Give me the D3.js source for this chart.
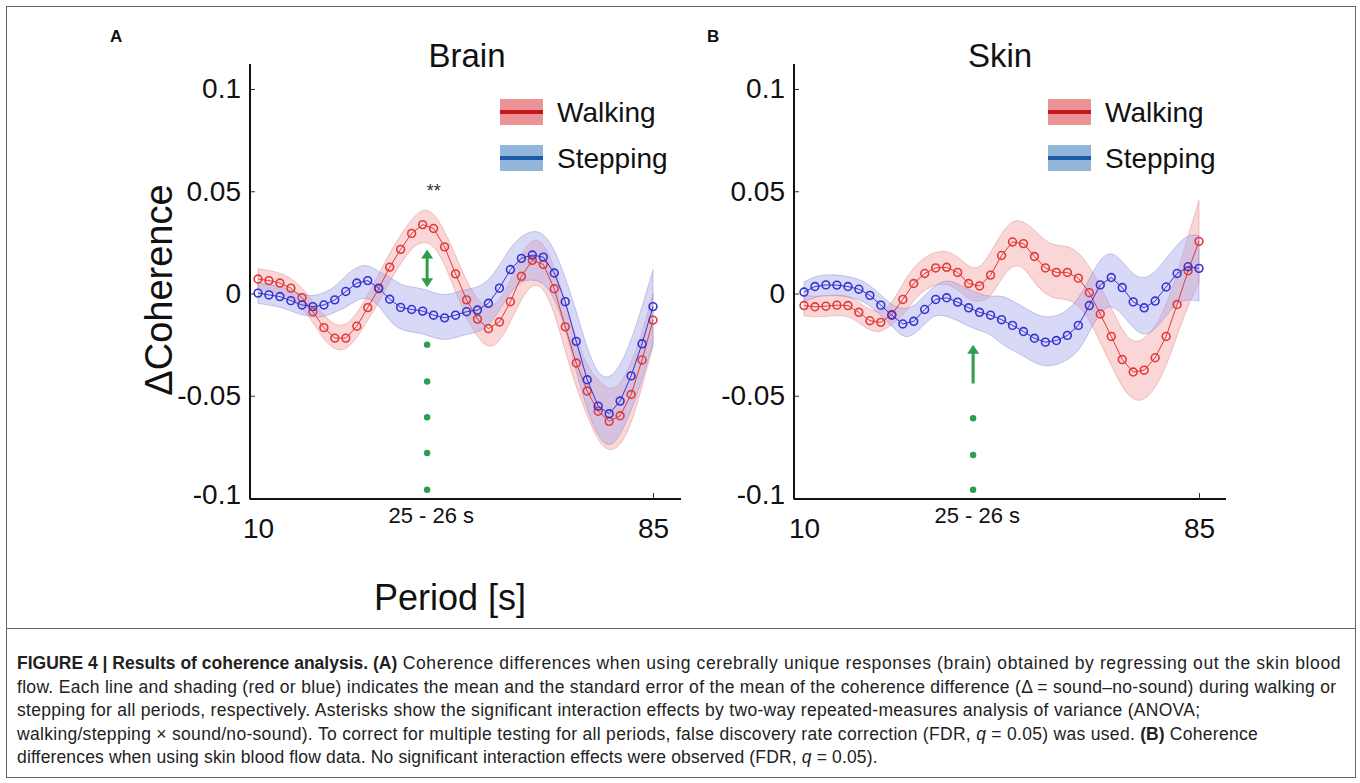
<!DOCTYPE html>
<html>
<head>
<meta charset="utf-8">
<script src="https://cdn.jsdelivr.net/npm/d3@7"></script>
<style>
  body { margin: 0; background: #fff; }
  svg { display: block; font-family: "Liberation Sans", Arial, sans-serif; }
</style>
</head>
<body>
<svg id="fig" width="1360" height="783"></svg>
<script>
// periods (s), log spaced 10 .. 85
const periods = [10.00, 10.61, 11.26, 11.95, 12.69, 13.46, 14.29, 15.16, 16.09, 17.08,
  18.12, 19.23, 20.41, 21.66, 22.99, 24.40, 25.89, 27.48, 29.16, 30.95,
  32.84, 34.85, 36.99, 39.25, 41.66, 44.21, 46.92, 49.79, 52.84, 56.08,
  59.51, 63.16, 67.03, 71.13, 75.49, 80.11, 85.00];

// Brain (A)
const brainWalking = [0.0071, 0.0063, 0.0051, 0.0026, -0.0020, -0.0089, -0.0167, -0.0218, -0.0218, -0.0160,
  -0.0069, 0.0023, 0.0129, 0.0216, 0.0294, 0.0337, 0.0318, 0.0228, 0.0096, -0.0031,
  -0.0125, -0.0172, -0.0139, -0.0040, 0.0084, 0.0162, 0.0142, 0.0023, -0.0163, -0.0340,
  -0.0477, -0.0576, -0.0625, -0.0598, -0.0494, -0.0325, -0.0130];
const brainWalkingSE = [0.005, 0.005, 0.005, 0.005, 0.005, 0.005, 0.006, 0.006, 0.006, 0.006,
  0.006, 0.007, 0.007, 0.007, 0.007, 0.008, 0.008, 0.008, 0.009, 0.009,
  0.009, 0.010, 0.010, 0.010, 0.011, 0.011, 0.011, 0.011, 0.012, 0.012,
  0.012, 0.015, 0.015, 0.015, 0.015, 0.013, 0.013];
const brainStepping = [0.0002, -0.0007, -0.0015, -0.0035, -0.0056, -0.0064, -0.0056, -0.0031, 0.0010, 0.0051,
  0.0063, 0.0026, -0.0028, -0.0068, -0.0078, -0.0086, -0.0106, -0.0119, -0.0106, -0.0089,
  -0.0081, -0.0048, 0.0026, 0.0117, 0.0172, 0.0188, 0.0178, 0.0100, -0.0040, -0.0234,
  -0.0422, -0.0551, -0.0588, -0.0526, -0.0403, -0.0246, -0.0064];
const brainSteppingSE = [0.005, 0.005, 0.005, 0.005, 0.005, 0.005, 0.006, 0.006, 0.008, 0.008,
  0.008, 0.008, 0.011, 0.011, 0.011, 0.011, 0.011, 0.011, 0.011, 0.011,
  0.011, 0.011, 0.011, 0.011, 0.011, 0.012, 0.012, 0.012, 0.012, 0.015,
  0.015, 0.015, 0.017, 0.017, 0.017, 0.018, 0.018];

// Skin (B)
const skinWalking = [-0.0059, -0.0065, -0.0062, -0.0057, -0.0059, -0.0092, -0.0133, -0.0141, -0.0103, -0.0029,
  0.0049, 0.0098, 0.0125, 0.0128, 0.0103, 0.0049, 0.0037, 0.0090, 0.0186, 0.0252,
  0.0244, 0.0181, 0.0125, 0.0103, 0.0103, 0.0075, 0.0004, -0.0100, -0.0210, -0.0323,
  -0.0384, -0.0375, -0.0314, -0.0210, -0.0054, 0.0111, 0.0255];
const skinWalkingSE = [0.005, 0.005, 0.005, 0.005, 0.005, 0.005, 0.005, 0.005, 0.005, 0.008,
  0.008, 0.008, 0.008, 0.008, 0.008, 0.008, 0.008, 0.011, 0.011, 0.011,
  0.011, 0.013, 0.013, 0.013, 0.013, 0.013, 0.013, 0.014, 0.014, 0.014,
  0.014, 0.015, 0.015, 0.015, 0.015, 0.017, 0.020];
const skinStepping = [0.0007, 0.0034, 0.0042, 0.0041, 0.0034, 0.0021, -0.0009, -0.0057, -0.0106, -0.0149,
  -0.0136, -0.0078, -0.0029, -0.0021, -0.0042, -0.0070, -0.0092, -0.0106, -0.0128, -0.0156,
  -0.0186, -0.0219, -0.0238, -0.0230, -0.0205, -0.0156, -0.0059, 0.0042, 0.0078, 0.0029,
  -0.0041, -0.0070, -0.0037, 0.0032, 0.0098, 0.0131, 0.0123];
const skinSteppingSE = [0.005, 0.005, 0.005, 0.005, 0.005, 0.005, 0.005, 0.005, 0.005, 0.007,
  0.007, 0.007, 0.007, 0.009, 0.009, 0.009, 0.009, 0.009, 0.012, 0.012,
  0.012, 0.012, 0.012, 0.012, 0.012, 0.013, 0.013, 0.013, 0.013, 0.013,
  0.013, 0.014, 0.014, 0.014, 0.014, 0.016, 0.016];

const yTicks = [0.1, 0.05, 0, -0.05, -0.1];
const yTickLabels = ['0.1', '0.05', '0', '-0.05', '-0.1'];
const xTicks = [10, 25.5, 85];
const xTickLabels = ['10', '25 - 26 s', '85'];
const legendLabels = ['Walking', 'Stepping'];

// green annotations (values in coherence units)
const brainArrow = [0.0030, 0.0215];
const brainDots = [-0.025, -0.043, -0.0605, -0.078, -0.096];
const skinArrow = [-0.044, -0.025];
const skinDots = [-0.061, -0.079, -0.096];
const markPeriod = 25;

const svg = d3.select('#fig');

// frame
svg.append('rect').attr('x', 6.5).attr('y', 6.5).attr('width', 1349).attr('height', 771)
  .attr('fill', 'none').attr('stroke', '#666').attr('stroke-width', 1);
svg.append('line').attr('x1', 6.5).attr('x2', 1355.5).attr('y1', 628.5).attr('y2', 628.5)
  .attr('stroke', '#666').attr('stroke-width', 1);

const red = { band: '#f5a3a3', bandStroke: '#d36b6b', line: '#e23a3a', swatch: '#eb9295', swLine: '#c4161c' };
const blue = { band: '#a9a9ee', bandStroke: '#7373c8', line: '#3434d2', swatch: '#92b5da', swLine: '#1c5aa6' };

function drawPanel(p) {
  const x = d3.scaleLog().domain([10, 85]).range([p.x0, p.x1]);
  const y = d3.scaleLinear().domain([-0.1, 0.1]).range([498, 89]);
  const g = svg.append('g');

  // bands
  [[p.walk, p.walkSE, red], [p.step, p.stepSE, blue]].forEach(([vals, se, c]) => {
    const rows = periods.map((t, i) => ({ t, v: vals[i], s: se[i] }));
    g.append('path').datum(rows)
      .attr('d', d3.area().curve(d3.curveBasis)
        .x(d => x(d.t)).y0(d => y(d.v - d.s)).y1(d => y(d.v + d.s)))
      .attr('fill', c.band).attr('fill-opacity', 0.45)
      .attr('stroke', c.bandStroke).attr('stroke-opacity', 0.45).attr('stroke-width', 0.8);
  });

  // mean lines with hollow markers
  [[p.walk, red], [p.step, blue]].forEach(([vals, c]) => {
    const rows = periods.map((t, i) => ({ t, v: vals[i] }));
    g.append('path').datum(rows)
      .attr('d', d3.line().x(d => x(d.t)).y(d => y(d.v)))
      .attr('fill', 'none').attr('stroke', c.line).attr('stroke-width', 1);
    g.selectAll(null).data(rows).join('circle')
      .attr('cx', d => x(d.t)).attr('cy', d => y(d.v)).attr('r', 3.9)
      .attr('fill', 'none').attr('stroke', c.line).attr('stroke-width', 1.6);
  });

  // axes
  const yAxis = d3.axisLeft(y).tickValues(yTicks)
    .tickFormat((d, i) => yTickLabels[i]).tickSizeInner(-5).tickSizeOuter(0).tickPadding(9);
  const ya = g.append('g').attr('transform', `translate(${p.axisX},0)`).call(yAxis);
  ya.select('.domain').remove();
  ya.selectAll('.tick line').attr('stroke', '#333');
  ya.selectAll('.tick').filter(d => d === -0.1).select('line').remove();
  ya.selectAll('text').attr('font-size', 28).attr('fill', '#111')
    .attr('font-family', '"Liberation Sans", Arial, sans-serif');
  ya.selectAll('.tick').filter(d => d === -0.1).select('text').attr('dy', '0.2em');

  g.append('line').attr('x1', p.axisX).attr('x2', p.axisX).attr('y1', 64).attr('y2', 499.5)
    .attr('stroke', '#111').attr('stroke-width', 2);
  g.append('line').attr('x1', p.axisX).attr('x2', p.axisEnd).attr('y1', 499).attr('y2', 499)
    .attr('stroke', '#111').attr('stroke-width', 2);

  const xAxis = d3.axisBottom(x).tickValues(xTicks)
    .tickFormat((d, i) => xTickLabels[i]).tickSizeInner(-6).tickSizeOuter(0).tickPadding(12);
  const xa = g.append('g').attr('transform', 'translate(0,499)').call(xAxis);
  xa.select('.domain').remove();
  xa.selectAll('.tick line').attr('stroke', '#333').filter(d => d !== 85).remove();
  xa.selectAll('text').attr('fill', '#111')
    .attr('font-family', '"Liberation Sans", Arial, sans-serif')
    .attr('font-size', d => d === 25.5 ? 22 : 28)
    .attr('dy', d => d === 25.5 ? '0.55em' : '0.95em');

  // title
  g.append('text').attr('x', p.titleX).attr('y', 67).attr('text-anchor', 'middle')
    .attr('font-size', 33).attr('fill', '#111').text(p.title);
  g.append('text').attr('x', p.labelX).attr('y', 42)
    .attr('font-size', 17).attr('font-weight', 'bold').attr('fill', '#111').text(p.label);

  // legend
  [red, blue].forEach((c, i) => {
    const ly = 99 + i * 46;
    g.append('rect').attr('x', p.legX).attr('y', ly).attr('width', 43).attr('height', 26)
      .attr('fill', c.swatch);
    g.append('line').attr('x1', p.legX).attr('x2', p.legX + 43)
      .attr('y1', ly + 13).attr('y2', ly + 13).attr('stroke', c.swLine).attr('stroke-width', 4);
    g.append('text').attr('x', p.legX + 57).attr('y', ly + 23).attr('font-size', 28)
      .attr('fill', '#111').text(legendLabels[i]);
  });

  // green marks
  const gx = x(markPeriod);
  const green = '#2e9e4a';
  p.dots.forEach(v => {
    g.append('circle').attr('cx', gx).attr('cy', y(v)).attr('r', 3.2).attr('fill', green);
  });
  const a0 = y(p.arrow[0]), a1 = y(p.arrow[1]);
  g.append('line').attr('x1', gx).attr('x2', gx).attr('y1', a0 - (p.doubleArrow ? 8 : 0)).attr('y2', a1 + 8)
    .attr('stroke', green).attr('stroke-width', 3);
  g.append('path').attr('d', `M${gx - 6},${a1 + 9} L${gx},${a1} L${gx + 6},${a1 + 9} Z`).attr('fill', green);
  if (p.doubleArrow) {
    g.append('path').attr('d', `M${gx - 6},${a0 - 9} L${gx},${a0} L${gx + 6},${a0 - 9} Z`).attr('fill', green);
  }
  return { x, y, g };
}

const A = drawPanel({
  x0: 258, x1: 653, axisX: 250, axisEnd: 681, title: 'Brain', titleX: 467, label: 'A', labelX: 110,
  legX: 500, walk: brainWalking, walkSE: brainWalkingSE, step: brainStepping, stepSE: brainSteppingSE,
  arrow: brainArrow, dots: brainDots, doubleArrow: true
});
drawPanel({
  x0: 804, x1: 1199, axisX: 794, axisEnd: 1226, title: 'Skin', titleX: 1000, label: 'B', labelX: 707,
  legX: 1048, walk: skinWalking, walkSE: skinWalkingSE, step: skinStepping, stepSE: skinSteppingSE,
  arrow: skinArrow, dots: skinDots, doubleArrow: false
});

// significance asterisks
A.g.append('text').attr('x', A.x(25.9)).attr('y', A.y(0.047)).attr('text-anchor', 'middle')
  .attr('font-size', 18).attr('fill', '#333').text('**');

// axis titles
svg.append('text').attr('transform', 'translate(172,290) rotate(-90)').attr('text-anchor', 'middle')
  .attr('font-size', 38).attr('fill', '#111').text('ΔCoherence');
svg.append('text').attr('x', 450).attr('y', 610).attr('text-anchor', 'middle')
  .attr('font-size', 36).attr('fill', '#111').text('Period [s]');

// caption
const caption = [
  [['b', 'FIGURE 4 | Results of coherence analysis. (A)'], ['n', ' Coherence differences when using cerebrally unique responses (brain) obtained by regressing out the skin blood']],
  [['n', 'flow. Each line and shading (red or blue) indicates the mean and the standard error of the mean of the coherence difference (Δ = sound–no-sound) during walking or']],
  [['n', 'stepping for all periods, respectively. Asterisks show the significant interaction effects by two-way repeated-measures analysis of variance (ANOVA;']],
  [['n', 'walking/stepping × sound/no-sound). To correct for multiple testing for all periods, false discovery rate correction (FDR, '], ['i', 'q'], ['n', ' = 0.05) was used. '], ['b', '(B)'], ['n', ' Coherence']],
  [['n', 'differences when using skin blood flow data. No significant interaction effects were observed (FDR, '], ['i', 'q'], ['n', ' = 0.05).']]
];
const captionSpacing = [0.6, 0.3, 0.3, 0.3, 0.15];
const cap = svg.append('g').attr('font-family', '"Liberation Sans", Arial, sans-serif')
  .attr('font-size', 17.5).attr('fill', '#222');
caption.forEach((parts, i) => {
  const t = cap.append('text').attr('x', 17).attr('y', 669 + i * 23.5)
    .attr('letter-spacing', captionSpacing[i]);
  parts.forEach(([k, s]) => {
    t.append('tspan').attr('font-weight', k === 'b' ? 'bold' : null)
      .attr('font-style', k === 'i' ? 'italic' : null)
      .attr('letter-spacing', k === 'b' ? 0 : null).text(s);
  });
});
</script>
</body>
</html>
